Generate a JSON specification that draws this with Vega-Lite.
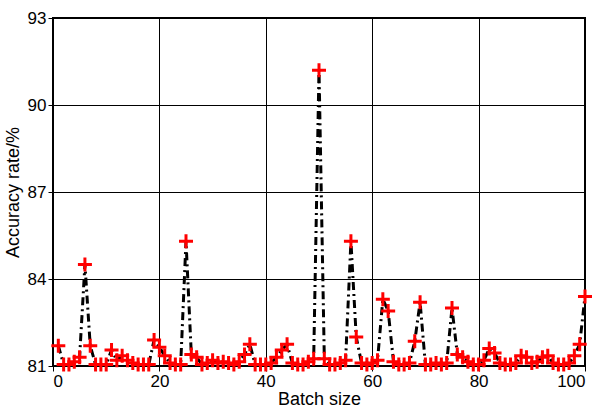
{
  "$schema": "https://vega.github.io/schema/vega-lite/v6.json",
  "width": 532,
  "height": 348,
  "autosize": "none",
  "padding": {"left": 53, "top": 18, "right": 14, "bottom": 45},
  "background": "white",
  "config": {
    "view": {"stroke": "black", "strokeWidth": 2},
    "font": "Liberation Sans",
    "axis": {
      "grid": true, "gridColor": "black", "gridOpacity": 1, "gridWidth": 1,
      "domain": false, "tickColor": "black", "tickSize": 5,
      "labelFont": "Liberation Sans", "labelFontSize": 17, "labelColor": "black",
      "titleFont": "Liberation Sans", "titleFontSize": 18, "titleFontWeight": "normal", "titleColor": "black"
    }
  },
  "data": {"values": [
    {"x":1,"y":81.7},{"x":2,"y":81.05},{"x":3,"y":81.05},{"x":4,"y":81.15},{"x":5,"y":81.3},
    {"x":6,"y":84.5},{"x":7,"y":81.7},{"x":8,"y":81.05},{"x":9,"y":81.05},{"x":10,"y":81.05},
    {"x":11,"y":81.55},{"x":12,"y":81.2},{"x":13,"y":81.35},{"x":14,"y":81.2},{"x":15,"y":81.1},
    {"x":16,"y":81.05},{"x":17,"y":81.05},{"x":18,"y":81.05},{"x":19,"y":81.9},{"x":20,"y":81.65},
    {"x":21,"y":81.35},{"x":22,"y":81.1},{"x":23,"y":81.05},{"x":24,"y":81.05},{"x":25,"y":85.3},
    {"x":26,"y":81.4},{"x":27,"y":81.3},{"x":28,"y":81.05},{"x":29,"y":81.1},{"x":30,"y":81.2},
    {"x":31,"y":81.1},{"x":32,"y":81.15},{"x":33,"y":81.1},{"x":34,"y":81.05},{"x":35,"y":81.15},
    {"x":36,"y":81.4},{"x":37,"y":81.75},{"x":38,"y":81.05},{"x":39,"y":81.05},{"x":40,"y":81.05},
    {"x":41,"y":81.1},{"x":42,"y":81.3},{"x":43,"y":81.55},{"x":44,"y":81.75},{"x":45,"y":81.1},
    {"x":46,"y":81.05},{"x":47,"y":81.05},{"x":48,"y":81.15},{"x":49,"y":81.25},{"x":50,"y":91.2},
    {"x":51,"y":81.25},{"x":52,"y":81.05},{"x":53,"y":81.05},{"x":54,"y":81.1},{"x":55,"y":81.2},
    {"x":56,"y":85.3},{"x":57,"y":82.0},{"x":58,"y":81.1},{"x":59,"y":81.05},{"x":60,"y":81.1},
    {"x":61,"y":81.2},{"x":62,"y":83.3},{"x":63,"y":82.9},{"x":64,"y":81.15},{"x":65,"y":81.05},
    {"x":66,"y":81.05},{"x":67,"y":81.1},{"x":68,"y":81.85},{"x":69,"y":83.2},{"x":70,"y":81.05},
    {"x":71,"y":81.05},{"x":72,"y":81.1},{"x":73,"y":81.05},{"x":74,"y":81.1},{"x":75,"y":83.0},
    {"x":76,"y":81.4},{"x":77,"y":81.3},{"x":78,"y":81.15},{"x":79,"y":81.05},{"x":80,"y":81.05},
    {"x":81,"y":81.2},{"x":82,"y":81.6},{"x":83,"y":81.45},{"x":84,"y":81.1},{"x":85,"y":81.05},
    {"x":86,"y":81.05},{"x":87,"y":81.1},{"x":88,"y":81.35},{"x":89,"y":81.3},{"x":90,"y":81.1},
    {"x":91,"y":81.15},{"x":92,"y":81.3},{"x":93,"y":81.35},{"x":94,"y":81.1},{"x":95,"y":81.05},
    {"x":96,"y":81.05},{"x":97,"y":81.1},{"x":98,"y":81.35},{"x":99,"y":81.75},{"x":100,"y":83.4}
  ]},
  "encoding": {
    "x": {"field": "x", "type": "quantitative", "scale": {"domain": [0, 100], "nice": false},
          "axis": {"values": [0, 20, 40, 60, 80, 100], "title": "Batch size", "titlePadding": 1, "labelPadding": 2}},
    "y": {"field": "y", "type": "quantitative", "scale": {"domain": [81, 93], "nice": false, "zero": false},
          "axis": {"values": [81, 84, 87, 90, 93], "title": "Accuracy rate/%", "titlePadding": 5, "labelPadding": 2}}
  },
  "layer": [
    {"mark": {"type": "line", "color": "black", "strokeWidth": 3, "strokeDash": [8, 4, 2, 4], "clip": true}},
    {"mark": {"type": "point", "shape": "M-1,0L1,0M0,-1L0,1", "size": 196, "filled": false, "stroke": "red", "strokeWidth": 3, "opacity": 1}}
  ]
}
